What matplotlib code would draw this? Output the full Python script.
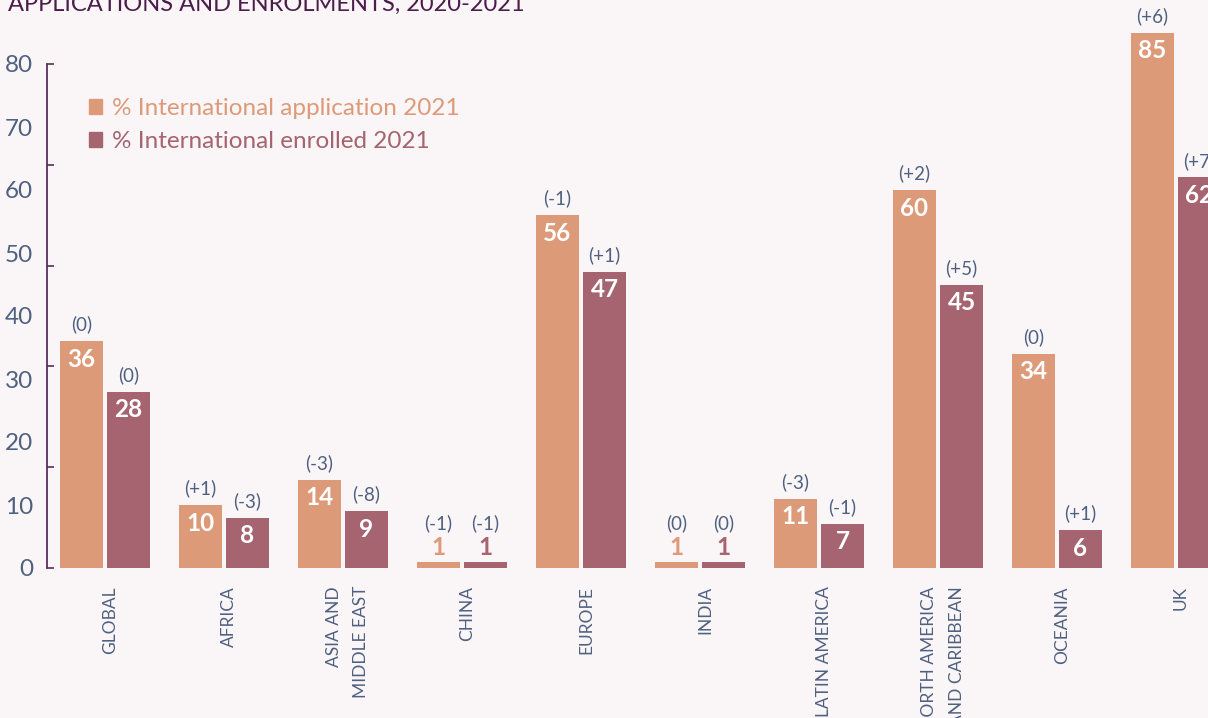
import matplotlib.pyplot as plt
import matplotlib.transforms as mtransforms
from matplotlib.patches import Patch
import numpy as np

# dati
categories = ['GLOBAL', 'AFRICA', 'ASIA AND\nMIDDLE EAST', 'CHINA', 'EUROPE', 'INDIA',
              'LATIN AMERICA', 'NORTH AMERICA\nAND CARIBBEAN', 'OCEANIA', 'UK']
applications = [36, 10, 14, 1, 56, 1, 11, 60, 34, 85]
enrolled = [28, 8, 9, 1, 47, 1, 7, 45, 6, 62]
app_change = ['(0)', '(+1)', '(-3)', '(-1)', '(-1)', '(0)', '(-3)', '(+2)', '(0)', '(+6)']
enr_change = ['(0)', '(-3)', '(-8)', '(-1)', '(+1)', '(0)', '(-1)', '(+5)', '(+1)', '(+7)']
series_names = ['% International application 2021', '% International enrolled 2021']
y_labels = [0, 10, 20, 30, 40, 50, 60, 70, 80]
y_marks = [0, 16, 32, 48, 64, 80]

bg = '#faf5f7'
c_app = '#dd9a79'
c_enr = '#a5646f'
c_text = '#4f6180'
c_axis = '#5b2d5e'

plt.rcParams['font.family'] = ['Lato', 'DejaVu Sans']

fig = plt.figure(figsize=(12.08, 7.18), dpi=100, facecolor=bg)
ax = fig.add_axes([47 / 1208, 150 / 718, 1161 / 1208, 567 / 718])
ax.set_facecolor(bg)

x = np.arange(len(categories))
w = 0.361
off = 0.1975
ax.bar(x - off, applications, w, color=c_app)
ax.bar(x + off, enrolled, w, color=c_enr)

# etichette valori e variazioni
for xs, vals, chg, col in [(x - off, applications, app_change, c_app),
                           (x + off, enrolled, enr_change, c_enr)]:
    for xi, v, c in zip(xs, vals, chg):
        if v >= 3:
            ax.annotate(str(v), (xi, v), xytext=(0, -13), textcoords='offset points',
                        ha='center', va='center', color='white', fontsize=17.5,
                        fontweight='bold')
            ax.annotate(c, (xi, v), xytext=(0, 12), textcoords='offset points',
                        ha='center', va='center', color=c_text, fontsize=13.5)
        else:
            ax.annotate(str(v), (xi, v), xytext=(0, 10.5), textcoords='offset points',
                        ha='center', va='center', color=col, fontsize=17.5,
                        fontweight='bold')
            ax.annotate(c, (xi, v), xytext=(0, 28), textcoords='offset points',
                        ha='center', va='center', color=c_text, fontsize=13.5)

ax.set_xlim(-0.487, 9.269)
ax.set_ylim(0, 90)

for s in ['top', 'right', 'bottom']:
    ax.spines[s].set_visible(False)
ax.spines['left'].set_bounds(0, 80)
ax.spines['left'].set_color(c_axis)
ax.spines['left'].set_linewidth(1.3)

ax.set_xticks(x)
ax.set_xticklabels(categories, rotation=90, va='top', ha='center',
                   multialignment='right', color=c_text, fontsize=12.5,
                   linespacing=1.85)
ax.tick_params(axis='x', length=0, pad=13)
shift = mtransforms.ScaledTranslation(5 / 100, 0, fig.dpi_scale_trans)
for lbl in ax.get_xticklabels():
    lbl.set_transform(lbl.get_transform() + shift)

ax.yaxis.remove_overlapping_locs = False
ax.set_yticks(y_labels)
ax.set_yticklabels([str(v) for v in y_labels])
ax.tick_params(axis='y', which='major', length=0, pad=10, labelsize=17.5, labelcolor=c_text)
ax.set_yticks(y_marks, minor=True)
ax.tick_params(axis='y', which='minor', direction='in', length=5, width=1.2, color=c_axis)

handles = [Patch(color=c_app), Patch(color=c_enr)]
ax.legend(handles, series_names, loc='upper left', bbox_to_anchor=(67 / 1208, 1 - 76 / 718),
          bbox_transform=fig.transFigure, frameon=False, fontsize=17.5,
          labelcolor=[c_app, c_enr], handlelength=0.55, handleheight=0.55,
          handletextpad=0.4, labelspacing=0.5)

fig.text(8 / 1208, 1 - 11 / 718, 'APPLICATIONS AND ENROLMENTS, 2020-2021',
         color='#4b1d4b', fontsize=17, va='baseline', ha='left')

fig.savefig('out.png', dpi=100, facecolor=bg)
